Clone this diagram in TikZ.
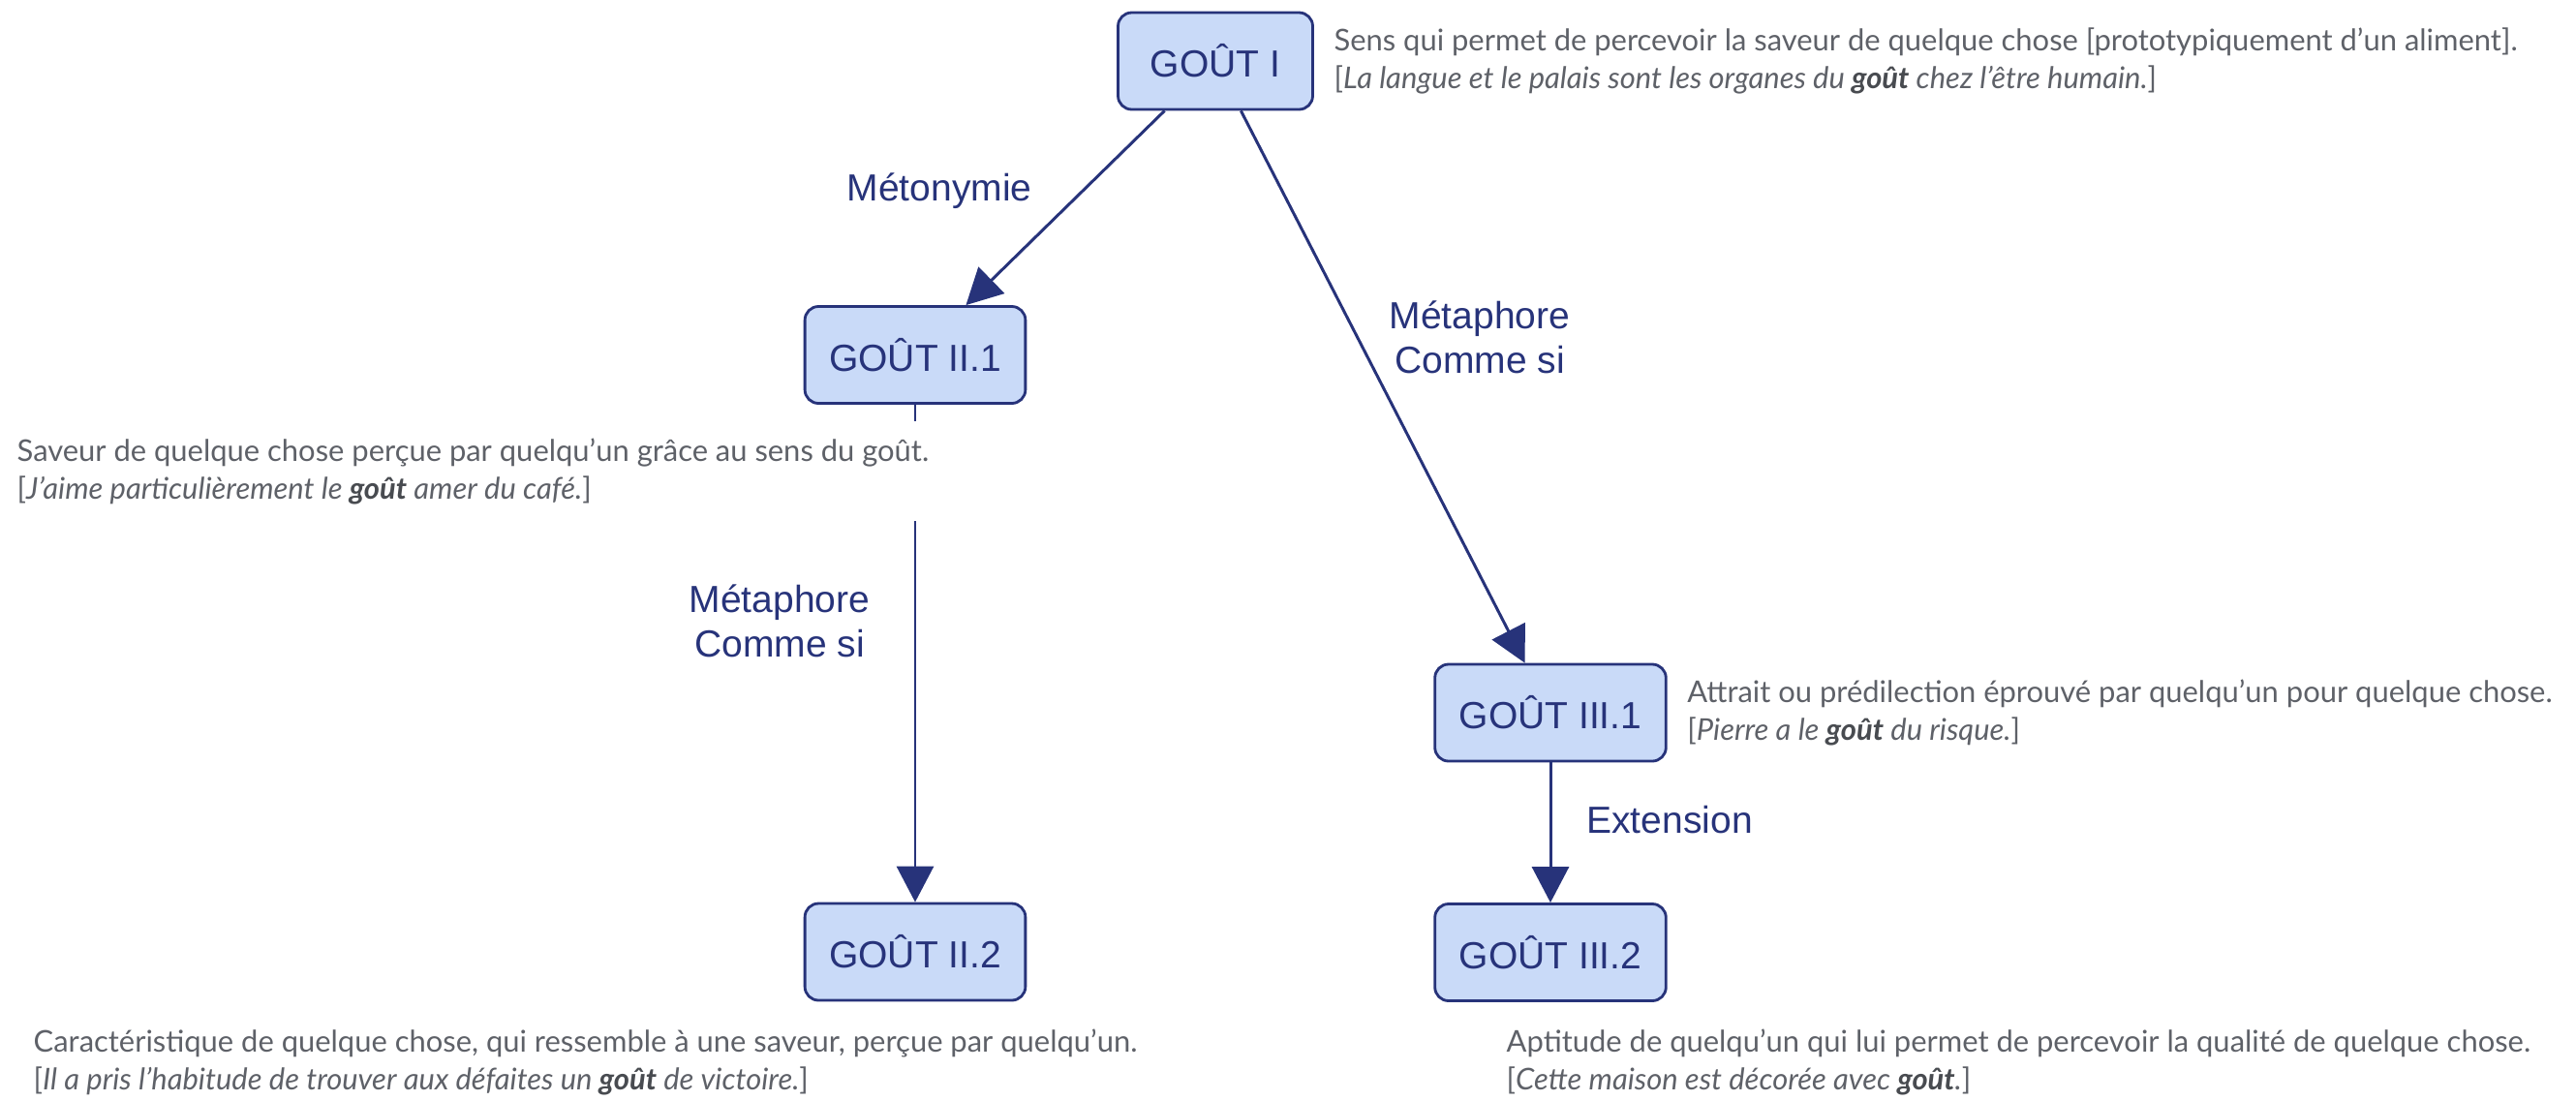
\documentclass[tikz,border=0pt]{standalone}
\usepackage{fontspec}
\setmainfont{Lato}
\newfontfamily\boxfont{Liberation Sans}
\usetikzlibrary{arrows.meta, positioning}

\definecolor{navy}{RGB}{39,51,122}
\definecolor{boxblue}{RGB}{201,218,248}
\definecolor{defgray}{RGB}{94,97,104}
\definecolor{defdark}{RGB}{72,75,80}

\newcommand{\mot}[1]{\textbf{\color{defdark}#1}}

\begin{document}
\begin{tikzpicture}[
    sense/.style = {
        draw = navy,
        fill = boxblue,
        rectangle,
        rounded corners = 4pt,
        line width = 0.8pt,
        minimum width = 2.01cm,
        minimum height = 1cm,
        inner xsep = 0.25cm,
        text = navy,
        font = \boxfont\fontsize{11.1}{13}\selectfont
    },
    relation/.style = {
        text = navy,
        align = center,
        font = \boxfont\fontsize{11.1}{13}\selectfont
    },
    defn/.style = {
        text = defgray,
        align = left,
        inner xsep = 0pt,
        font = \fontsize{8.8}{11.1}\selectfont
    },
    arrow/.style = {-{Triangle[length = 0.37cm, width = 0.38cm]}, line width = 0.85pt, draw = navy}
]

\useasboundingbox (0, 0) rectangle (26.6, -11.36);

% Senses
\node[sense] (gout1) at (12.55, -0.63) {GOÛT I};
\node[sense] (gout21) at (9.45, -3.665) {GOÛT II.1};
\node[sense] (gout22) at (9.45, -9.83) {GOÛT II.2};
\node[sense] (gout31) at (16.01, -7.36) {GOÛT III.1};
\node[sense] (gout32) at (16.01, -9.835) {GOÛT III.2};

% Relations between senses
\draw[arrow] (gout1) -- (gout21);
\draw[arrow] (gout1) -- (gout31);
\draw[arrow] (gout21) -- (gout22);
\draw[arrow] (gout31) -- (gout32);

\node[relation] (metonymie) at (9.70, -1.97) {Métonymie};
\node[relation] (metaphore1) at (15.28, -3.48) {Métaphore \\ Comme si};
\node[relation] (metaphore2) at (8.05, -6.41) {Métaphore \\ Comme si};
\node[relation, anchor = west] (extension) at (16.26, -8.47) {Extension};

% Definitions
\node[defn, right = 0.2cm of gout1] (def1) {
    Sens qui permet de percevoir la saveur de quelque chose [prototypiquement d’un aliment]. \\
    {[}\textit{La langue et le palais sont les organes du \mot{goût} chez l’être humain.}]
};

\node[defn, fill = white, inner ysep = 0.17cm, anchor = west] (def21) at (0.17, -4.865) {
    Saveur de quelque chose perçue par quelqu’un grâce au sens du goût. \\
    {[}\textit{J’aime particulièrement le \mot{goût} amer du café.}]
};

\node[defn, anchor = west] (def22) at (0.34, -10.97) {
    Caractéristique de quelque chose, qui ressemble à une saveur, perçue par quelqu’un. \\
    {[}\textit{Il a pris l’habitude de trouver aux défaites un \mot{goût} de victoire.}]
};

\node[defn, right = 0.2cm of gout31] (def31) {
    Attrait ou prédilection éprouvé par quelqu’un pour quelque chose. \\
    {[}\textit{Pierre a le \mot{goût} du risque.}]
};

\node[defn, anchor = west] (def32) at (15.55, -10.97) {
    Aptitude de quelqu’un qui lui permet de percevoir la qualité de quelque chose. \\
    {[}\textit{Cette maison est décorée avec \mot{goût}.}]
};

\end{tikzpicture}
\end{document}
